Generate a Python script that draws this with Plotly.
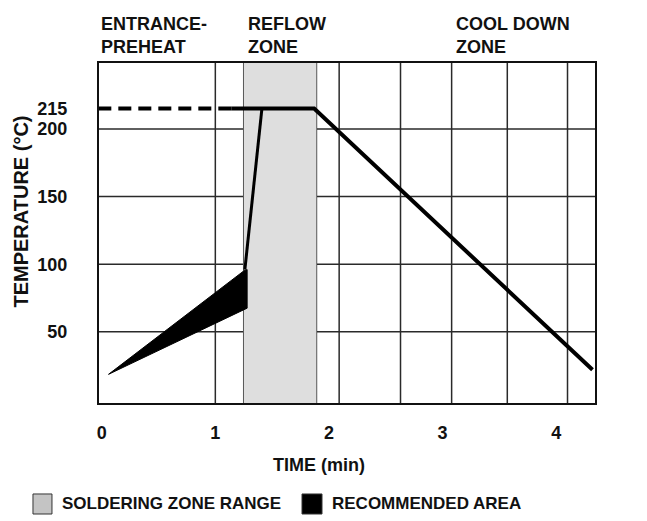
import plotly.graph_objects as go

# ---- data ----
x_tick_vals = [0, 1, 2, 3, 4]
x_tick_text = ["0", "1", "2", "3", "4"]
y_tick_vals = [50, 100, 150, 200, 215]
y_tick_text = ["50", "100", "150", "200", "215"]
grid_time = [1.0, 1.25, 1.89, 2.09, 2.63, 3.08, 3.57, 4.10]
grid_temp = [50, 100, 150, 200]
zone_time = [1.25, 1.89]          # soldering zone range
preheat_time = [-0.03, 1.14]      # dashed entrance line
preheat_temp = [215, 215]
profile_time = [1.14, 1.87, 4.32]
profile_temp = [215, 215, 22]
ramp_time = [1.26, 1.41]
ramp_temp = [96, 215]
area_time = [0.06, 1.25, 1.28, 1.28, 0.06]
area_temp = [18.6, 95, 96, 67.5, 18.6]
zone_labels = ["ENTRANCE-<br>PREHEAT", "REFLOW<br>ZONE", "COOL DOWN<br>ZONE"]
zone_label_time = [-0.024, 1.27, 3.10]
legend_names = ["SOLDERING ZONE RANGE", "RECOMMENDED AREA"]
legend_colors = ["#c4c4c4", "#000000"]

FONT = "Liberation Sans, Arial, Helvetica, sans-serif"
X_RANGE = [-0.024, 4.342]
Y_RANGE = [-2.6, 248.7]

fig = go.Figure()

# soldering zone shading
fig.add_shape(type="rect", xref="x", yref="y", x0=zone_time[0], x1=zone_time[1],
              y0=Y_RANGE[0], y1=Y_RANGE[1], fillcolor="#dedede", line_width=0, layer="below")
# grid
for gx in grid_time:
    fig.add_shape(type="line", xref="x", yref="paper", x0=gx, x1=gx, y0=0, y1=1,
                  line=dict(color="#2a2a2a", width=1.5), layer="below")
for gy in grid_temp:
    fig.add_shape(type="line", xref="paper", yref="y", x0=0, x1=1, y0=gy, y1=gy,
                  line=dict(color="#2a2a2a", width=1.5), layer="below")

# recommended area
fig.add_trace(go.Scatter(x=area_time, y=area_temp, mode="lines", fill="toself",
                         fillcolor="black", line=dict(color="black", width=1),
                         showlegend=False, hoverinfo="skip"))
fig.add_trace(go.Scatter(x=preheat_time, y=preheat_temp, mode="lines",
                         line=dict(color="black", width=4, dash="13px,7px"),
                         showlegend=False, hoverinfo="skip"))
fig.add_trace(go.Scatter(x=ramp_time, y=ramp_temp, mode="lines",
                         line=dict(color="black", width=3),
                         showlegend=False, hoverinfo="skip"))
fig.add_trace(go.Scatter(x=profile_time, y=profile_temp, mode="lines",
                         line=dict(color="black", width=4),
                         showlegend=False, hoverinfo="skip"))

# manual legend (swatches + labels) below the plot
sw_x = [(-0.1331, -0.0948), (0.4093, 0.4496)]
txt_x = [-0.0786, 0.4657]
for (x0, x1), tx, name, col in zip(sw_x, txt_x, legend_names, legend_colors):
    fig.add_shape(type="rect", xref="paper", yref="paper", x0=x0, x1=x1,
                  y0=-0.3265, y1=-0.2676, fillcolor=col,
                  line=dict(color="#333", width=1))
    fig.add_annotation(text=name, xref="paper", yref="paper", x=tx, y=-0.297,
                       xanchor="left", yanchor="middle", showarrow=False,
                       font=dict(family=FONT, size=17, color="#111", weight="bold"))

for txt, tx in zip(zone_labels, zone_label_time):
    fig.add_annotation(text=txt, xref="x", yref="paper", x=tx, y=1.149,
                       xanchor="left", yanchor="top", align="left", showarrow=False,
                       font=dict(family=FONT, size=18, color="#111", weight="bold"))

fig.add_annotation(text="TEMPERATURE (°C)", xref="paper", yref="paper",
                   x=-0.158, y=0.562, textangle=-90, showarrow=False,
                   xanchor="center", yanchor="middle",
                   font=dict(family=FONT, size=20, color="#111", weight="bold"))
fig.add_annotation(text="TIME (min)", xref="paper", yref="paper",
                   x=0.4435, y=-0.182, showarrow=False,
                   xanchor="center", yanchor="middle",
                   font=dict(family=FONT, size=18, color="#111", weight="bold"))

fig.update_layout(
    width=639, height=513,
    margin=dict(l=91, r=52, t=55, b=118, autoexpand=False),
    paper_bgcolor="white", plot_bgcolor="white",
    font=dict(family=FONT, size=18, color="#111", weight="bold"),
    showlegend=False,
    xaxis=dict(range=X_RANGE, tickvals=x_tick_vals, ticktext=x_tick_text,
               showgrid=False, zeroline=False, showline=True, mirror=True,
               linecolor="#111", linewidth=2, ticks="", ticklabelstandoff=12,
               tickfont=dict(family=FONT, size=18, weight="bold")),
    yaxis=dict(range=Y_RANGE, tickvals=y_tick_vals, ticktext=y_tick_text,
               showgrid=False, zeroline=False, showline=True, mirror=True,
               linecolor="#111", linewidth=2, ticks="", ticklabelstandoff=26,
               tickfont=dict(family=FONT, size=18, weight="bold")),
)

fig.write_html("out.html")
